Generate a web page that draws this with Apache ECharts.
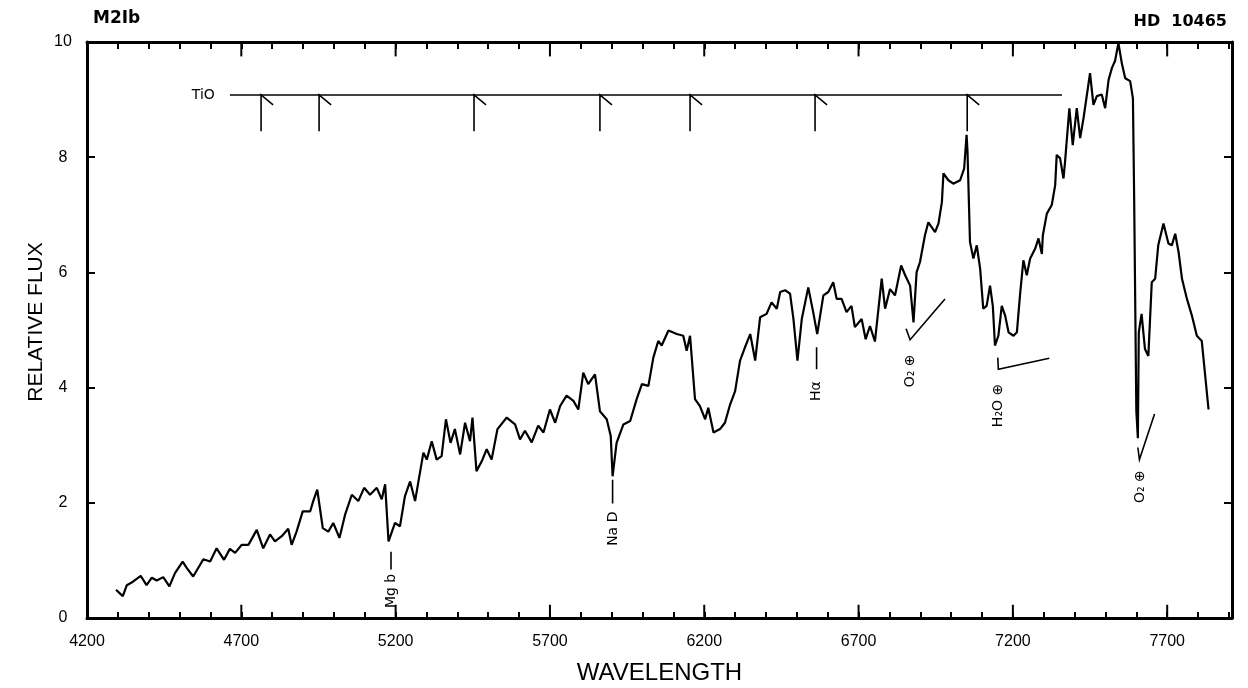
<!DOCTYPE html>
<html>
<head>
<meta charset="utf-8">
<script src="https://cdn.jsdelivr.net/npm/echarts@6/dist/echarts.min.js"></script>
<style>
  html, body { margin: 0; padding: 0; background: #fff; }
  #chart { width: 1248px; height: 688px; }
</style>
</head>
<body>
<div id="chart"></div>
<script>
// ---- Spectrum (wavelength in Å, relative flux) ----
const WAVE = [4294,4316,4329,4349,4374,4393,4410,4426,4447,4467,4485,4510,4523,4544,4577,4599,4620,4644,4663,4680,
  4701,4723,4750,4771,4793,4809,4831,4852,4863,4879,4899,4923,4933,4946,4953,4964,4982,4998,5018,5036,
  5058,5079,5098,5117,5139,5155,5166,5177,5198,5214,5230,5247,5263,
  5290,5301,5317,5333,5349,5363,5378,5392,5409,5425,5441,5449,5462,5479,5495,5511,5530,5560,5587,5603,
  5619,5641,5662,5679,5700,5717,5733,5754,5776,5792,5808,5824,5846,5862,5884,5897,5903,5916,5938,5960,
  5981,5998,6019,6035,6051,6062,6084,6111,6132,6143,6154,6170,6186,6203,6213,6230,6251,6267,6284,6300,
  6316,6332,6349,6365,6381,6402,6418,6435,6446,6462,6478,6489,6502,6516,6537,6553,6566,6586,
  6602,6618,6629,6645,6661,6677,6688,6710,6723,6737,6753,6775,6786,6802,6818,6838,6851,6867,6878,6888,
  6899,6915,6926,6948,6959,6970,6975,6991,7007,7029,7042,7050,7053,7061,7072,7083,7094,7104,7115,7126,
  7135,7142,7153,7164,7175,7186,7202,7213,7223,7234,7245,7256,7272,7283,7294,7297,7310,7326,7337,
  7342,7353,7364,7369,7383,7394,7407,7418,7429,7450,7461,7472,7488,7499,7510,7521,7531,7542,7553,7564,
  7580,7589,7593,7600,7605,7608,7617,7628,7639,7650,7661,7671,7688,7704,7715,7726,7737,7748,7764,7780,
  7796,7812,7834];
const FLUX = [0.49,0.38,0.57,0.63,0.73,0.57,0.70,0.65,0.71,0.55,0.78,0.98,0.87,0.72,1.02,0.98,1.21,1.01,1.20,1.13,
  1.27,1.27,1.53,1.21,1.45,1.33,1.42,1.55,1.27,1.50,1.85,1.85,2.03,2.23,1.97,1.56,1.50,1.65,1.39,1.79,
  2.14,2.03,2.26,2.14,2.26,2.06,2.32,1.33,1.65,1.59,2.11,2.37,2.03,
  2.87,2.75,3.07,2.75,2.81,3.45,3.04,3.28,2.84,3.39,3.07,3.48,2.55,2.72,2.93,2.75,3.28,3.48,3.36,3.10,
  3.25,3.05,3.34,3.22,3.62,3.39,3.68,3.86,3.77,3.62,4.26,4.06,4.23,3.59,3.45,3.16,2.46,3.04,3.36,3.42,
  3.80,4.06,4.03,4.52,4.81,4.73,4.99,4.93,4.90,4.64,4.90,3.80,3.68,3.45,3.65,3.22,3.28,3.39,3.71,3.94,
  4.47,4.70,4.93,4.47,5.22,5.28,5.48,5.37,5.66,5.69,5.63,5.19,4.47,5.19,5.74,5.31,4.93,5.60,
  5.66,5.83,5.54,5.54,5.31,5.42,5.05,5.19,4.84,5.07,4.80,5.89,5.37,5.71,5.60,6.12,5.95,5.77,5.13,6.00,
  6.18,6.64,6.87,6.70,6.85,7.22,7.72,7.60,7.54,7.60,7.80,8.39,8.10,6.53,6.24,6.47,6.06,5.37,5.42,5.77,
  5.42,4.73,4.90,5.42,5.25,4.96,4.90,4.96,5.60,6.21,5.95,6.24,6.41,6.59,6.32,6.64,7.02,7.17,7.51,
  8.04,7.98,7.63,7.92,8.85,8.21,8.85,8.33,8.68,9.46,8.91,9.06,9.09,8.85,9.34,9.55,9.67,9.98,9.63,9.37,
  9.32,9.02,7.28,3.60,3.12,4.96,5.28,4.67,4.55,5.83,5.89,6.47,6.85,6.50,6.47,6.67,6.35,5.89,5.54,5.25,
  4.90,4.81,3.62];

// ---- Axes ----
const X_MIN = 4200, X_MAX = 7910, X_MINOR_STEP = 100;
const X_LABELS = [4200, 4700, 5200, 5700, 6200, 6700, 7200, 7700];
const Y_MIN = 0, Y_MAX = 10, Y_STEP = 2;

// ---- Line identifications ----
const ANNOT_LABELS = ['Mg b', 'Na D', 'Hα', 'O₂ ⊕', 'H₂O ⊕', 'O₂ ⊕'];
const ANNOT_WAVE   = [5185, 5906, 6564, 6867, 7152, 7612];
const ANNOT_FLUX   = [0.47, 1.55, 3.94, 4.29, 3.69, 2.28];
// short pointer strokes (polylines in data space)
const POINTER_WAVE = [[5185, 5185], [5903, 5903], [6564, 6564], [6854, 6867, 6980], [7151, 7153, 7318], [7605, 7610, 7659]];
const POINTER_FLUX = [[1.15, 0.84], [2.40, 1.99], [4.70, 4.32], [5.02, 4.83, 5.54], [4.52, 4.32, 4.51], [2.96, 2.75, 3.54]];

// ---- TiO band heads ----
const TIO_LABEL = 'TiO';
const TIO_BAR_FLUX = 9.08;
const TIO_BAR_WAVE = [4663, 7359];
const TIO_HEADS = [4764, 4952, 5454, 5862, 6154, 6559, 7052];
const TIO_DROP_FLUX = 8.45;
const TIO_FLAG_DW = 39, TIO_FLAG_DF = -0.17;

const INK = '#000';
const chart = echarts.init(document.getElementById('chart'), null, { renderer: 'canvas' });

const spectrum = WAVE.map((w, i) => [w, FLUX[i]]);

const pointerSegs = POINTER_WAVE.map((ws, i) => ({ coords: ws.map((w, j) => [w, POINTER_FLUX[i][j]]) }));
const tioSegs = [{ coords: [[TIO_BAR_WAVE[0], TIO_BAR_FLUX], [TIO_BAR_WAVE[1], TIO_BAR_FLUX]] }];
TIO_HEADS.forEach(w => {
  tioSegs.push({ coords: [[w, TIO_DROP_FLUX], [w, TIO_BAR_FLUX], [w + TIO_FLAG_DW, TIO_BAR_FLUX + TIO_FLAG_DF]] });
});
// major (500 Å) ticks: longer inward strokes on bottom and top frame
const majorSegs = [];
X_LABELS.forEach(v => {
  majorSegs.push({ coords: [[v, Y_MIN], [v, Y_MIN + 0.23]] });
  majorSegs.push({ coords: [[v, Y_MAX], [v, Y_MAX - 0.25]] });
});

const annotData = ANNOT_LABELS.map((t, i) => ({ value: [ANNOT_WAVE[i], ANNOT_FLUX[i]], name: t }));

const baseAxisX = {
  type: 'value', min: X_MIN, max: X_MAX, interval: X_MINOR_STEP,
  splitLine: { show: false },
  axisLine: { show: true, onZero: false, lineStyle: { color: INK, width: 3 } },
  axisTick: { show: true, inside: true, length: 6, lineStyle: { color: INK, width: 2 } }
};

const option = {
  backgroundColor: '#fff',
  animation: false,
  textStyle: { fontFamily: 'Liberation Sans, Arial, sans-serif', color: INK },
  title: [
    { text: 'M2Ib', left: 88, top: 5, textStyle: { fontFamily: 'DejaVu Sans', fontWeight: 'bold', fontSize: 17, color: INK } },
    { text: 'HD  10465', right: 16, top: 9, textStyle: { fontFamily: 'DejaVu Sans', fontWeight: 'bold', fontSize: 16, color: INK } }
  ],
  grid: { left: 87, right: 16, top: 42, bottom: 70, containLabel: false, outerBoundsMode: 'none' },
  xAxis: [
    Object.assign({}, baseAxisX, {
      position: 'bottom',
      name: 'WAVELENGTH', nameLocation: 'middle', nameGap: 43,
      nameTextStyle: { fontSize: 24, color: INK, fontFamily: 'Liberation Sans' },
      axisLabel: {
        show: true, margin: 16, fontSize: 16, color: INK, fontFamily: 'Liberation Sans',
        formatter: v => X_LABELS.indexOf(v) >= 0 ? String(v) : ''
      }
    }),
    Object.assign({}, baseAxisX, {
      position: 'top',
      axisTick: { show: true, inside: true, length: 7, lineStyle: { color: INK, width: 2 } },
      axisLabel: { show: false }
    })
  ],
  yAxis: [
    {
      type: 'value', min: Y_MIN, max: Y_MAX, interval: Y_STEP, position: 'left',
      splitLine: { show: false },
      axisLine: { show: true, onZero: false, lineStyle: { color: INK, width: 3 } },
      axisTick: { show: true, inside: true, length: 8, lineStyle: { color: INK, width: 2 } },
      axisLabel: { show: true, margin: 24, align: 'center', fontSize: 16, color: INK, fontFamily: 'Liberation Sans' },
      name: 'RELATIVE FLUX', nameLocation: 'middle', nameGap: 40, nameRotate: 90, nameMoveOverlap: false,
      nameTextStyle: { fontSize: 21, color: INK, fontFamily: 'Liberation Sans', padding: [0, 0, 0, 16] }
    },
    {
      type: 'value', min: Y_MIN, max: Y_MAX, interval: Y_STEP, position: 'right',
      splitLine: { show: false },
      axisLine: { show: true, onZero: false, lineStyle: { color: INK, width: 3 } },
      axisTick: { show: true, inside: true, length: 8, lineStyle: { color: INK, width: 2 } },
      axisLabel: { show: false }
    }
  ],
  series: [
    {
      type: 'line', data: spectrum, xAxisIndex: 0, yAxisIndex: 0,
      showSymbol: false, smooth: false,
      lineStyle: { color: INK, width: 2.2 }, silent: true
    },
    {
      type: 'lines', coordinateSystem: 'cartesian2d', xAxisIndex: 0, yAxisIndex: 0,
      polyline: true, data: majorSegs, silent: true,
      lineStyle: { color: INK, width: 2, opacity: 1 }
    },
    {
      type: 'lines', coordinateSystem: 'cartesian2d', xAxisIndex: 0, yAxisIndex: 0,
      polyline: true, data: tioSegs, silent: true,
      lineStyle: { color: INK, width: 1.6, opacity: 1 }
    },
    {
      type: 'lines', coordinateSystem: 'cartesian2d', xAxisIndex: 0, yAxisIndex: 0,
      polyline: true, data: pointerSegs, silent: true,
      lineStyle: { color: INK, width: 1.6, opacity: 1 }
    },
    {
      type: 'scatter', xAxisIndex: 0, yAxisIndex: 0, silent: true,
      symbol: 'circle', symbolSize: 2, itemStyle: { color: 'rgba(255,255,255,0)' },
      data: annotData,
      label: {
        show: true, position: 'inside', rotate: 90, formatter: p => p.name, opacity: 1,
        fontSize: 14, color: INK, textBorderWidth: 0, fontFamily: 'DejaVu Sans', align: 'center', verticalAlign: 'middle'
      }
    },
    {
      type: 'scatter', xAxisIndex: 0, yAxisIndex: 0, silent: true,
      symbol: 'circle', symbolSize: 2, itemStyle: { color: 'rgba(255,255,255,0)' },
      data: [{ value: [TIO_BAR_WAVE[0], TIO_BAR_FLUX], name: TIO_LABEL }],
      label: {
        show: true, position: 'left', distance: 14, formatter: p => p.name, opacity: 1,
        fontSize: 14, color: INK, textBorderWidth: 0, fontFamily: 'DejaVu Sans'
      }
    }
  ]
};
chart.setOption(option);
</script>
</body>
</html>
